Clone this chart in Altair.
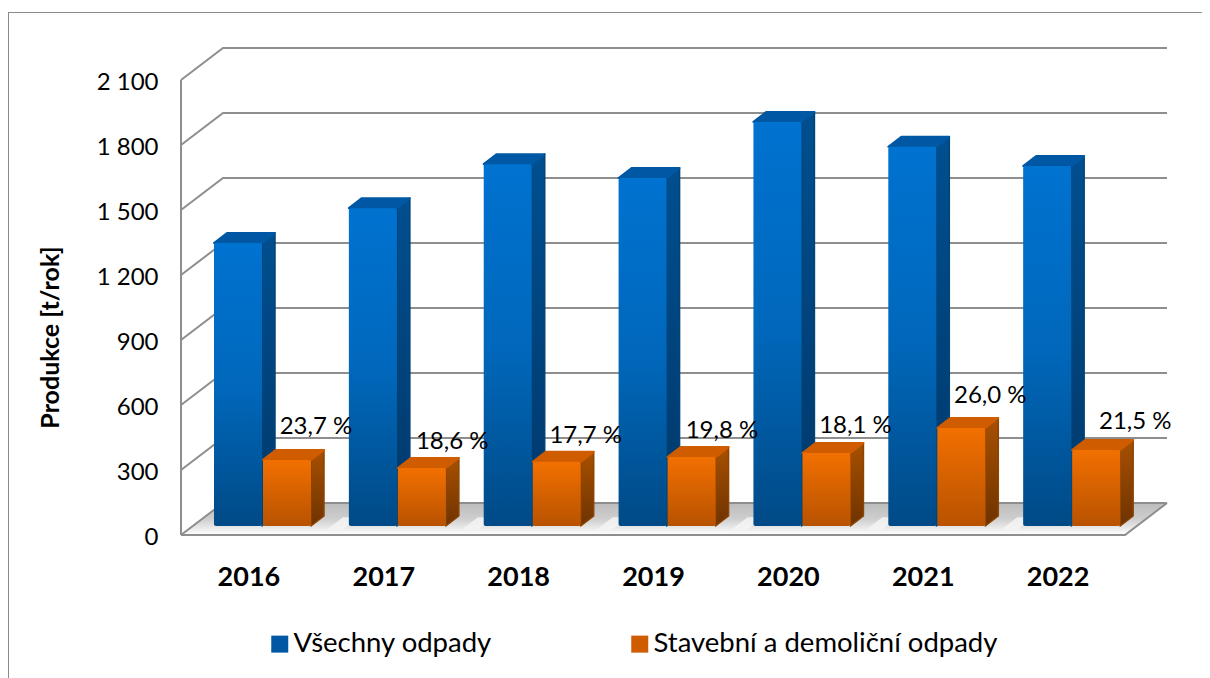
import altair as alt
import pandas as pd

# ---- data ----
years = [2016, 2017, 2018, 2019, 2020, 2021, 2022]
all_waste = [1306, 1467, 1670, 1606, 1865, 1750, 1661]
cd_waste = [305, 268, 296, 318, 337, 452, 351]
shares = ["23,7 %", "18,6 %", "17,7 %", "19,8 %", "18,1 %", "26,0 %", "21,5 %"]
y_ticks = [0, 300, 600, 900, 1200, 1500, 1800, 2100]
series_names = ["Všechny odpady", "Stavební a demoliční odpady"]
y_title = "Produkce [t/rok]"

# ---- layout (in axis units) ----
PX_X = 134.86           # pixels per category
PX_Y = 65 / 300         # pixels per t/rok
WALL_DX, WALL_DY = 42 / PX_X, 32 / PX_Y     # depth of whole box
BAR_DX, BAR_DY = 13 / PX_X, 10 / PX_Y       # depth of a bar
BASE_Y = 9 / PX_Y                           # front of bars above the front floor edge
BAR_W = 48 / PX_X
BLUE_X0 = 33 / PX_X
ORANGE_X0 = 82 / PX_X
label_dx = [0, 0.01, 0, 0.01, 0, 0, 0.075]
label_dy = [33, 26, 26, 26, 27, 32, 28]
FONT = "Lato"

x_scale = alt.Scale(domain=[(8 - 181) / PX_X, (1202 - 181) / PX_X], range=[0, 1194], nice=False, zero=False)
y_scale = alt.Scale(domain=[(535 - 678) / PX_Y, (535 - 8) / PX_Y], range=[670, 0], nice=False, zero=False)


def X(**kw):
    return alt.X("x:Q", scale=x_scale, title=None, **kw)


def Y(**kw):
    return alt.Y("y:Q", scale=y_scale, stack=None, title=y_title, **kw)


Y2 = alt.Y2("y2:Q")


def grad(*stops, horizontal=False):
    n = len(stops) - 1
    return alt.Gradient(
        gradient="linear",
        x1=0, x2=1 if horizontal else 0, y1=0, y2=0 if horizontal else 1,
        stops=[alt.GradientStop(offset=i / n, color=c) for i, c in enumerate(stops)],
    )


# ---- box lines ----
wall_rows = []
for k, t in enumerate(y_ticks):
    wall_rows += [
        dict(id=f"g{k}", o=0, x=0, y=t),
        dict(id=f"g{k}", o=1, x=WALL_DX, y=t + WALL_DY),
        dict(id=f"g{k}", o=2, x=len(years) + WALL_DX, y=t + WALL_DY),
    ]
wall_rows += [
    dict(id="v", o=0, x=0, y=0),
    dict(id="v", o=1, x=0, y=y_ticks[-1]),
    dict(id="f", o=0, x=0, y=0),
    dict(id="f", o=1, x=len(years), y=0),
    dict(id="f", o=2, x=len(years) + WALL_DX, y=WALL_DY),
]
walls = pd.DataFrame(wall_rows)

# ---- floor ----
n = len(years)
floor = pd.DataFrame([
    dict(x=0, y=0, y2=0),
    dict(x=WALL_DX, y=WALL_DY, y2=0),
    dict(x=n, y=WALL_DY, y2=0),
    dict(x=n + WALL_DX, y=WALL_DY, y2=WALL_DY),
])

gap_rows = []
GAP_W = 16 / PX_X
for i in range(n - 1):
    x0 = i + 146 / PX_X
    gap_rows += [
        dict(id=i, x=x0, y=BASE_Y * 0.6, y2=BASE_Y * 0.6),
        dict(id=i, x=x0 + GAP_W, y=BASE_Y + 40, y2=BASE_Y * 0.6),
        dict(id=i, x=x0 + 2 * GAP_W, y=BASE_Y + 40, y2=BASE_Y + 40),
    ]
gaps = pd.DataFrame(gap_rows)


# ---- bars ----
def faces(values, x0_off, name):
    front, side, top = [], [], []
    for i, v in enumerate(values):
        x0 = i + x0_off
        x1 = x0 + BAR_W
        t = v + BASE_Y
        front.append(dict(x=x0, x2=x1, y=t, y2=BASE_Y, series=name))
        side += [
            dict(id=i, x=x1, y=t, y2=BASE_Y),
            dict(id=i, x=x1 + BAR_DX, y=t + BAR_DY, y2=BASE_Y + BAR_DY),
        ]
        top += [
            dict(id=i, x=x0, y=t, y2=t, series=name),
            dict(id=i, x=x0 + BAR_DX, y=t + BAR_DY, y2=t, series=name),
            dict(id=i, x=x1, y=t + BAR_DY, y2=t, series=name),
            dict(id=i, x=x1 + BAR_DX, y=t + BAR_DY, y2=t + BAR_DY, series=name),
        ]
    return pd.DataFrame(front), pd.DataFrame(side), pd.DataFrame(top)


b_front, b_side, b_top = faces(all_waste, BLUE_X0, series_names[0])
o_front, o_side, o_top = faces(cd_waste, ORANGE_X0, series_names[1])

labels = pd.DataFrame(dict(
    x=[i + ORANGE_X0 + 53 / PX_X + label_dx[i] for i in range(n)],
    y=[v + BASE_Y + label_dy[i] / PX_Y for i, v in enumerate(cd_waste)],
    text=shares,
))

y_axis = alt.Axis(
    values=y_ticks, offset=-150, domain=False, ticks=False, grid=False, labelPadding=0,
    labelFont=FONT, labelFontSize=24, labelColor="#000000", labelOffset=2,
    labelExpr="replace(format(datum.value, ','), ',', ' ')",
    titleFont=FONT, titleFontSize=25, titleFontWeight="bold", titleColor="#000000",
    titleX=-108, titleY=329, titleAngle=270, titleBaseline="middle", titleAlign="center",
)
x_axis = alt.Axis(
    values=[i + 0.5 for i in range(n)], offset=-101, domain=False, ticks=False, grid=False,
    labelFont=FONT, labelFontSize=27, labelFontWeight="bold", labelColor="#000000", labelPadding=0,
    labelExpr="format(datum.value + 2015.5, 'd')", labelBaseline="middle", labelAngle=0,
)

frame = pd.DataFrame(dict(a=[0]))
frame_top = alt.Chart(frame).mark_rule(color="#8a8a8a", strokeWidth=1).encode(
    x=alt.value(0), x2=alt.value(1194), y=alt.value(4.5))
frame_left = alt.Chart(frame).mark_rule(color="#8a8a8a", strokeWidth=1).encode(
    x=alt.value(0.5), y=alt.value(4), y2=alt.value(670))

floor_l = alt.Chart(floor).mark_area(
    orient="vertical", color=grad("#bcbcbc", "#cecece", "#ffffff"), opacity=1
).encode(x=X(axis=x_axis), y=Y(axis=y_axis), y2=Y2)
gap_l = alt.Chart(gaps).mark_area(orient="vertical", color="#f4f4f4", opacity=0.85).encode(
    x=X(), y=Y(), y2=Y2, detail="id:N")
walls_l = alt.Chart(walls).mark_line(color="#8e8e8e", strokeWidth=2, strokeJoin="miter").encode(
    x=X(), y=Y(), detail="id:N", order="o:Q")


def side_layer(df, g, edge):
    return alt.Chart(df).mark_area(
        orient="vertical", color=g, opacity=1, stroke=edge, strokeWidth=1.5, strokeJoin="round"
    ).encode(x=X(), y=Y(), y2=Y2, detail="id:N")


def front_layer(df, g):
    return alt.Chart(df).mark_bar(color=g, cornerRadius=2).encode(
        x=X(), x2=alt.X2("x2:Q"), y=Y(), y2=Y2)


def top_layer(df, edge):
    return alt.Chart(df).mark_area(
        orient="vertical", opacity=1, interpolate="linear", stroke=edge, strokeWidth=2, strokeJoin="round"
    ).encode(
        x=X(), y=Y(), y2=Y2, detail="id:N",
        color=alt.Color(
            "series:N",
            scale=alt.Scale(domain=series_names, range=["#0058a4", "#d05c00"]),
            legend=alt.Legend(
                orient="none", legendX=258, legendY=622, direction="horizontal", columns=2,
                title=None, symbolType="square", symbolSize=289, symbolStrokeWidth=0,
                labelFont=FONT, labelFontSize=27.5, labelColor="#000000", labelLimit=500,
                columnPadding=134, labelOffset=0, padding=0,
            ),
        ),
    )


text_l = alt.Chart(labels).mark_text(font=FONT, fontSize=24, color="#000000").encode(
    x=X(), y=Y(), text="text:N")

chart = alt.layer(
    floor_l, gap_l, walls_l, frame_top, frame_left,
    side_layer(b_side, grad("#004f90", "#00386a"), "#004478"),
    top_layer(b_top, "#0058a4"),
    front_layer(b_front, grad("#0072d0", "#0068bc", "#004a86")),
    side_layer(o_side, grad("#a85000", "#6e3300"), "#8c4400"),
    top_layer(o_top, "#d05c00"),
    front_layer(o_front, grad("#f27000", "#b85200")),
    text_l,
).properties(
    width=1194, height=670, padding=0,
    autosize=alt.AutoSizeParams(type="none"),
    background="#ffffff",
).configure_view(stroke=None)

chart.save("out.html", embed_options={"renderer": "svg", "actions": False})
